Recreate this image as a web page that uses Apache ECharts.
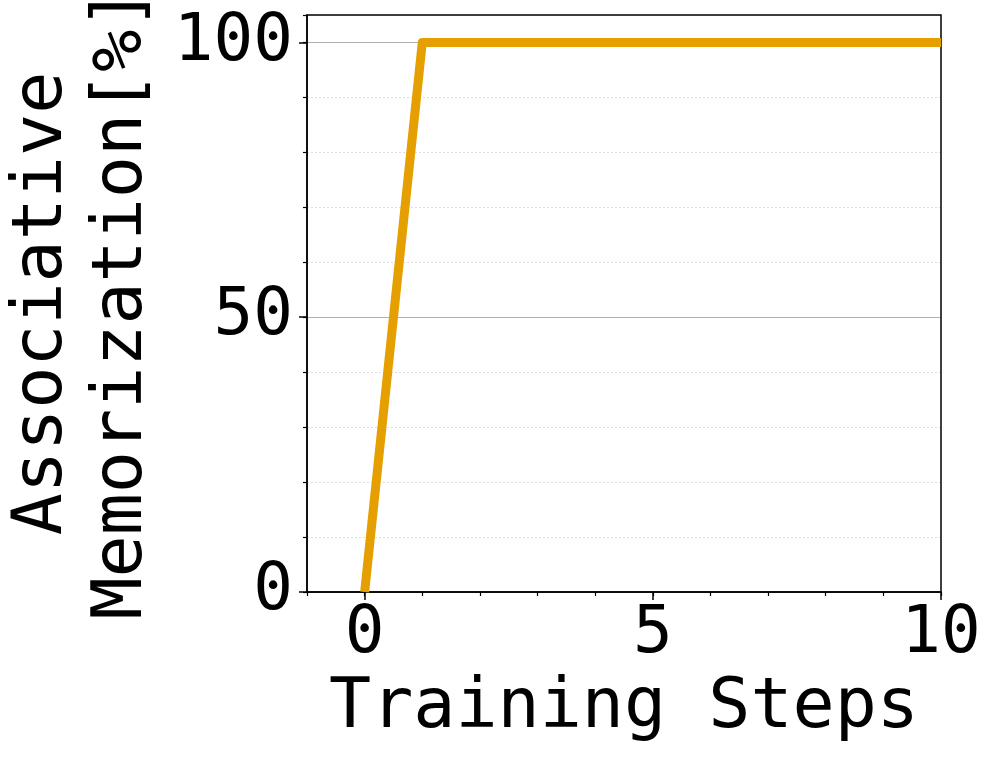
<!DOCTYPE html>
<html>
<head>
<meta charset="utf-8">
<script src="https://cdn.jsdelivr.net/npm/echarts@6/dist/echarts.min.js"></script>
<style>html,body{margin:0;padding:0;background:#fff}#c{width:997px;height:765px}</style>
</head>
<body>
<div id="c"></div>
<script>
const steps = [0, 1, 2, 3, 4, 5, 6, 7, 8, 9, 10];
const memorization = [0, 100, 100, 100, 100, 100, 100, 100, 100, 100, 100];
const xMajorTicks = [0, 5, 10];
const yMajorTicks = [0, 50, 100];
const xTitle = 'Training Steps';
const yTitle = 'Associative\nMemorization[%]';

const FONT = 'DejaVu Sans Mono';
const chart = echarts.init(document.getElementById('c'), null, {renderer: 'canvas'});
const seriesData = steps.map((s, i) => [s, memorization[i]]);

chart.setOption({
  animation: false,
  backgroundColor: '#fff',
  grid: {left: 307, right: 56, top: 15, bottom: 173, show: true, borderColor: '#000', borderWidth: 1.5, containLabel: false, outerBoundsMode: 'none', z: 3},
  xAxis: [
    {
      type: 'value', position: 'bottom', min: -1, max: 10, interval: 1,
      axisLine: {show: true, onZero: false, lineStyle: {color: '#000', width: 1.5}},
      axisTick: {show: true, length: 4, lineStyle: {color: '#000', width: 1.2}},
      splitLine: {show: false},
      axisLabel: {
        show: true, margin: 10, color: '#000', fontFamily: FONT, fontSize: 66,
        formatter: v => xMajorTicks.includes(v) ? String(v) : ''
      },
      name: xTitle, nameLocation: 'middle', nameGap: 82,
      nameTextStyle: {color: '#000', fontFamily: FONT, fontSize: 70}
    },
    {
      type: 'value', position: 'bottom', min: -1, max: 10, interval: 1,
      axisLine: {show: false, onZero: false},
      axisTick: {show: true, length: 8, customValues: xMajorTicks, lineStyle: {color: '#000', width: 1.5}},
      splitLine: {show: false},
      axisLabel: {show: false}
    }
  ],
  yAxis: [
    {
      type: 'value', position: 'left', min: 0, max: 105, interval: 10,
      axisLine: {show: true, onZero: false, lineStyle: {color: '#000', width: 1.5}},
      axisTick: {show: true, length: 4, lineStyle: {color: '#000', width: 1.2}},
      splitLine: {show: true, lineStyle: {color: '#dcdcdc', width: 1, type: [2, 2]}},
      axisLabel: {
        show: true, margin: 14, color: '#000', fontFamily: FONT, fontSize: 66,
        formatter: v => yMajorTicks.includes(v) ? String(v) : ''
      },
      name: yTitle, nameLocation: 'middle', nameRotate: 90, nameGap: 140,
      nameTextStyle: {color: '#000', fontFamily: FONT, fontSize: 70, lineHeight: 80, align: 'center'}
    },
    {
      type: 'value', position: 'left', min: 0, max: 105, interval: 50,
      axisLine: {show: false, onZero: false},
      axisTick: {show: true, length: 8, customValues: yMajorTicks, lineStyle: {color: '#000', width: 1.5}},
      splitLine: {show: true, lineStyle: {color: '#b0b0b0', width: 1, type: 'solid'}},
      axisLabel: {show: false}
    }
  ],
  series: [{
    type: 'line', xAxisIndex: 0, yAxisIndex: 0, data: seriesData,
    showSymbol: false, symbol: 'none', clip: true,
    lineStyle: {color: '#E69F00', width: 9, cap: 'butt', join: 'round'},
    z: 5
  }]
});
</script>
</body>
</html>
